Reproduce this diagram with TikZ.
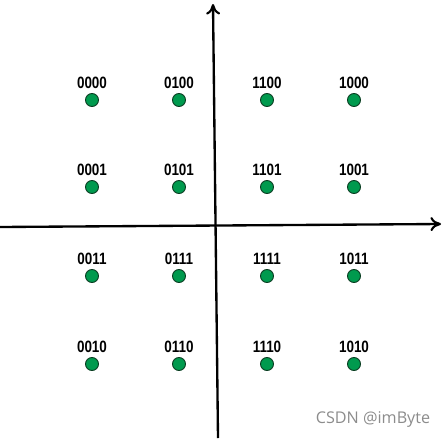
\documentclass[tikz,border=0pt]{standalone}
\usepackage{fontspec}
\setmainfont{Liberation Sans}
\newfontfamily\bitfont{Liberation Sans Bold}
\newfontfamily\markfont{Open Sans}
\usetikzlibrary{arrows.meta}
\definecolor{dotgreen}{HTML}{009A4E}
\definecolor{dotedge}{HTML}{0B3D22}

\begin{document}
\begin{tikzpicture}
        [x=0.03cm, y=-0.03cm,
         dot/.style={shape=circle, draw=dotedge, fill=dotgreen, line width=0.8pt,
                     minimum size=0.39cm, inner sep=0pt,
                     label distance=-1.5pt},
         bits/.style={font=\bitfont\fontsize{14}{15}\selectfont, xscale=0.82},
         axis/.style={line width=2pt, -{To[length=9pt,width=12pt,line width=1.8pt]}}]
        \useasboundingbox (0, 0) rectangle (446, 441);

        \coordinate (xstart) at (0, 227);
        \coordinate (xend) at (441, 224);
        \coordinate (ystart) at (218, 438);
        \coordinate (yend) at (213, 4);
        \draw[axis] (xstart) -- (xend);
        \draw[axis] (ystart) -- (yend);

        \node[dot, label={[bits]above:0000}] (p0000) at (92, 100) {};
        \node[dot, label={[bits]above:0100}] (p0100) at (179, 100) {};
        \node[dot, label={[bits]above:1100}] (p1100) at (267, 100) {};
        \node[dot, label={[bits]above:1000}] (p1000) at (354, 100) {};

        \node[dot, label={[bits]above:0001}] (p0001) at (92, 187) {};
        \node[dot, label={[bits]above:0101}] (p0101) at (179, 187) {};
        \node[dot, label={[bits]above:1101}] (p1101) at (267, 187) {};
        \node[dot, label={[bits]above:1001}] (p1001) at (354, 187) {};

        \node[dot, label={[bits]above:0011}] (p0011) at (92, 276) {};
        \node[dot, label={[bits]above:0111}] (p0111) at (179, 276) {};
        \node[dot, label={[bits]above:1111}] (p1111) at (267, 276) {};
        \node[dot, label={[bits]above:1011}] (p1011) at (354, 276) {};

        \node[dot, label={[bits]above:0010}] (p0010) at (92, 364) {};
        \node[dot, label={[bits]above:0110}] (p0110) at (179, 364) {};
        \node[dot, label={[bits]above:1110}] (p1110) at (267, 364) {};
        \node[dot, label={[bits]above:1010}] (p1010) at (354, 364) {};

        \node[text=black!45, font=\markfont\fontsize{13.8}{15}\selectfont] (mark) at (373, 420) {CSDN @imByte};
    \end{tikzpicture}
\end{document}
